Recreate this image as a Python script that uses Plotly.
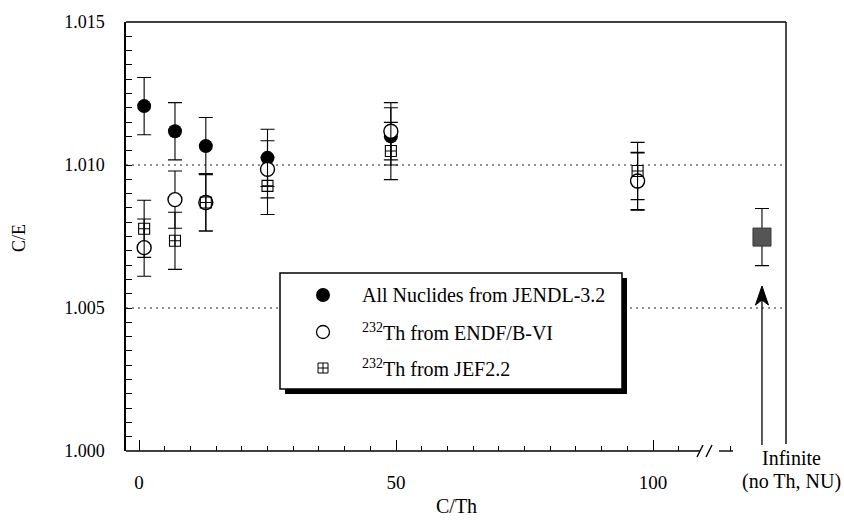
import plotly.graph_objects as go

# C/Th atomic ratio of each core
c_th = [1, 7, 13, 25, 49, 97]

# C/E of k-eff for the three nuclear data sets
ce_jendl = [1.01206, 1.01118, 1.01066, 1.01025, 1.01100, 1.00942]
ce_endf = [1.00711, 1.00879, 1.00869, 1.00985, 1.01118, 1.00944]
ce_jef = [1.00777, 1.00735, 1.00869, 1.00927, 1.01049, 1.00979]
err_jendl = [0.0010, 0.0010, 0.0010, 0.0010, 0.0010, 0.0010]
err_endf = [0.0010, 0.0010, 0.0010, 0.0010, 0.0010, 0.0010]
err_jef = [0.0010, 0.0010, 0.0010, 0.0010, 0.0010, 0.0010]

# Core without thorium (natural uranium), placed past the axis break
inf_pos = [121.2]
inf_ce = [1.00748]
inf_err = [0.0010]

x_ticks = [0, 50, 100]
x_minor = [5, 10, 15, 20, 25, 30, 35, 40, 45, 55, 60, 65, 70, 75, 80, 85, 90, 95, 105, 115]
y_ticks = [1.000, 1.005, 1.010, 1.015]
y_tick_text = ["1.000", "1.005", "1.010", "1.015"]
grid_levels = [1.005, 1.010]

legend_names = ["All Nuclides from JENDL-3.2",
                "<sup>232</sup>Th from ENDF/B-VI",
                "<sup>232</sup>Th from JEF2.2"]

FONT = "Liberation Serif"
W, H = 844, 520
L, R, T, B = 126, 786, 22, 451   # plot frame in pixels


def px(x):
    return (x - L) / (R - L)


def py(y):
    return (B - y) / (B - T)


def ebar(vals):
    return dict(type="data", array=vals, visible=True, color="black",
                thickness=1.1, width=7)


fig = go.Figure()

fig.add_trace(go.Scatter(
    x=c_th, y=ce_jendl, mode="markers", error_y=ebar(err_jendl),
    marker=dict(symbol="circle", size=14, color="black"),
    showlegend=False, cliponaxis=False))
fig.add_trace(go.Scatter(
    x=c_th, y=ce_endf, mode="markers", error_y=ebar(err_endf),
    marker=dict(symbol="circle", size=14, color="white",
                line=dict(color="black", width=1.4)),
    showlegend=False, cliponaxis=False))
fig.add_trace(go.Scatter(
    x=c_th, y=ce_jef, mode="markers", error_y=ebar(err_jef),
    marker=dict(symbol="square-cross-open", size=11, color="black",
                line=dict(color="black", width=1.1)),
    showlegend=False, cliponaxis=False))
fig.add_trace(go.Scatter(
    x=inf_pos, y=inf_ce, mode="markers", error_y=ebar(inf_err),
    marker=dict(symbol="square", size=18, color="#555555",
                line=dict(color="#333333", width=1)),
    showlegend=False, cliponaxis=False))

# Hand-drawn legend markers on a pixel-space overlay axis
fig.add_trace(go.Scatter(
    x=[323], y=[295], xaxis="x2", yaxis="y2", mode="markers",
    marker=dict(symbol="circle", size=14, color="black"),
    showlegend=False, hoverinfo="skip"))
fig.add_trace(go.Scatter(
    x=[323], y=[332], xaxis="x2", yaxis="y2", mode="markers",
    marker=dict(symbol="circle", size=13, color="white",
                line=dict(color="black", width=1.3)),
    showlegend=False, hoverinfo="skip"))
fig.add_trace(go.Scatter(
    x=[323], y=[368], xaxis="x2", yaxis="y2", mode="markers",
    marker=dict(symbol="square-cross-open", size=10, color="black",
                line=dict(color="black", width=1)),
    showlegend=False, hoverinfo="skip"))

shapes = []
# dotted reference levels
for lvl in grid_levels:
    shapes.append(dict(type="line", xref="paper", yref="y", x0=0, x1=1,
                       y0=lvl, y1=lvl, layer="below",
                       line=dict(color="#222", width=1, dash="2px,4px")))
# legend box with drop shadow
shapes.append(dict(type="rect", xref="paper", yref="paper",
                   x0=px(285), x1=px(627), y0=py(394), y1=py(278),
                   fillcolor="black", line=dict(width=0), layer="below"))
shapes.append(dict(type="rect", xref="paper", yref="paper",
                   x0=px(280), x1=px(622), y0=py(389), y1=py(273),
                   fillcolor="white", line=dict(color="black", width=1.5),
                   layer="below"))
# frame: top, right, broken bottom axis
frame = dict(type="line", xref="paper", yref="paper",
             line=dict(color="black", width=1.4))
shapes.append({**frame, "x0": 0, "x1": 1, "y0": 1, "y1": 1})
shapes.append({**frame, "x0": 1, "x1": 1, "y0": 1, "y1": py(444)})
shapes.append({**frame, "x0": 0, "x1": px(700), "y0": 0, "y1": 0})
shapes.append({**frame, "x0": px(697), "x1": px(703), "y0": py(457), "y1": py(445)})
shapes.append({**frame, "x0": px(706), "x1": px(712), "y0": py(457), "y1": py(445)})
shapes.append({**frame, "x0": px(719), "x1": px(733), "y0": 0, "y1": 0})
# arrow pointing at the no-thorium core
shapes.append(dict(type="line", xref="x", yref="paper",
                   x0=inf_pos[0], x1=inf_pos[0], y0=py(445), y1=py(298),
                   line=dict(color="black", width=1.3)))
shapes.append(dict(type="path", xref="x", yref="paper",
                   xsizemode="pixel", xanchor=inf_pos[0],
                   path="M-6.5,{b} L0,{t} L6.5,{b} L0,{m} Z".format(
                       b=py(305), t=py(286), m=py(300)),
                   fillcolor="black", line=dict(color="black", width=1)))

annotations = []
for i, name in enumerate(legend_names):
    annotations.append(dict(text=name, xref="paper", yref="paper",
                            x=px(360), y=py([295, 332, 368][i]),
                            xanchor="left", yanchor="middle", showarrow=False,
                            font=dict(family=FONT, size=20, color="black")))
annotations += [
    dict(text="C/E", xref="paper", yref="paper", x=px(19), y=py(238),
         textangle=-90, showarrow=False, xanchor="center", yanchor="middle",
         font=dict(family=FONT, size=18, color="black")),
    dict(text="C/Th", xref="paper", yref="paper", x=px(457), y=py(506),
         showarrow=False, xanchor="center", yanchor="middle",
         font=dict(family=FONT, size=20, color="black")),
    dict(text="Infinite", xref="paper", yref="paper", x=px(791), y=py(458),
         showarrow=False, xanchor="center", yanchor="middle",
         font=dict(family=FONT, size=20, color="black")),
    dict(text="(no Th, NU)", xref="paper", yref="paper", x=px(791), y=py(481),
         showarrow=False, xanchor="center", yanchor="middle",
         font=dict(family=FONT, size=20, color="black")),
]

fig.update_layout(
    width=W, height=H,
    margin=dict(l=L, r=W - R, t=T, b=H - B, pad=0),
    paper_bgcolor="white", plot_bgcolor="white",
    font=dict(family=FONT, size=18, color="black"),
    shapes=shapes, annotations=annotations,
    xaxis=dict(range=[(L - 139) / 5.14, (R - 139) / 5.14],
               showline=False, showgrid=False, zeroline=False,
               tickvals=x_ticks, ticks="inside", ticklen=11, tickwidth=1.2,
               tickcolor="black", ticklabelstandoff=18,
               tickfont=dict(family=FONT, size=19, color="black"),
               minor=dict(tickvals=x_minor, ticks="inside", ticklen=5,
                          tickwidth=1, tickcolor="black", showgrid=False)),
    yaxis=dict(range=[1.000, 1.015], showline=True, linecolor="black",
               linewidth=1.5, showgrid=False, zeroline=False,
               tickvals=y_ticks, ticktext=y_tick_text, ticks="inside",
               ticklen=6, tickwidth=1.2, tickcolor="black",
               ticklabelstandoff=16,
               tickfont=dict(family=FONT, size=18, color="black"),
               minor=dict(dtick=0.0005, ticks="inside", ticklen=6,
                          tickwidth=1, tickcolor="black", showgrid=False)),
    xaxis2=dict(overlaying="x", range=[L, R], visible=False, anchor="y2"),
    yaxis2=dict(overlaying="y", range=[B, T], visible=False, anchor="x2"),
)

fig.write_html("out.html")
